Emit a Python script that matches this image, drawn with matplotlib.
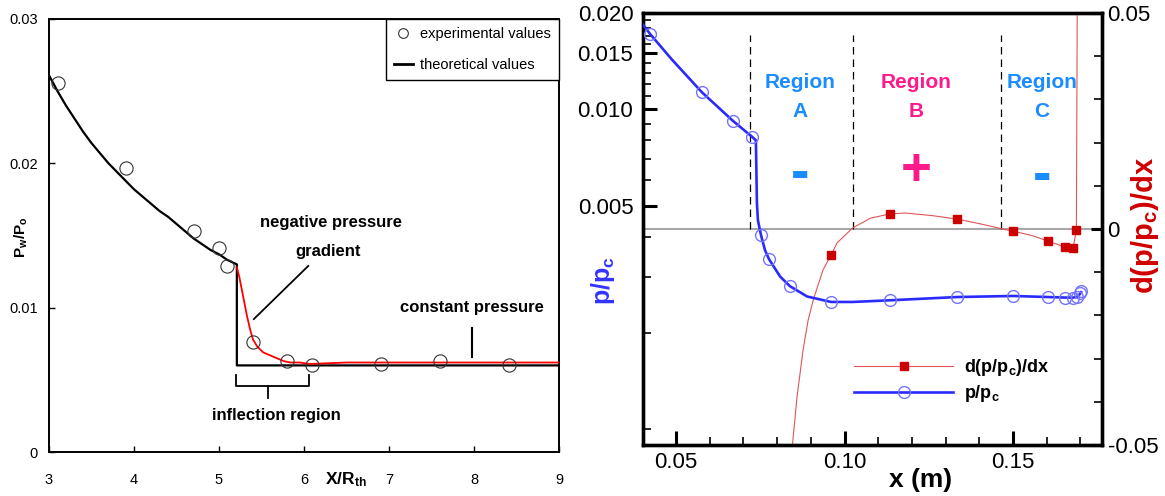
import matplotlib.pyplot as plt
from matplotlib.lines import Line2D
from matplotlib.ticker import FixedLocator, FixedFormatter, NullFormatter

plt.rcParams['font.family'] = ['Liberation Sans', 'DejaVu Sans']
plt.rcParams['mathtext.fontset'] = 'custom'
plt.rcParams['mathtext.rm'] = 'Liberation Sans'
plt.rcParams['mathtext.bf'] = 'Liberation Sans:bold'
plt.rcParams['mathtext.it'] = 'Liberation Sans:italic'

# ---- left panel: wall pressure vs X/R_th ----
exp_x = [3.1, 3.9, 4.71, 5.0, 5.1, 5.4, 5.8, 6.09, 6.9, 7.6, 8.41]
exp_p = [0.0256, 0.0197, 0.0153, 0.0141, 0.0129, 0.0076, 0.0063, 0.0060, 0.0061, 0.0063, 0.0060]
theo_x = [3.0, 3.1, 3.2, 3.3, 3.4, 3.5, 3.6, 3.7, 3.8, 3.9, 4.0, 4.1, 4.2, 4.3, 4.4,
          4.5, 4.6, 4.7, 4.8, 4.9, 5.0, 5.1, 5.21, 5.21, 9.0]
theo_p = [0.0261, 0.0250, 0.0240, 0.0231, 0.0222, 0.0214, 0.0207, 0.0200, 0.0194, 0.0188,
          0.0182, 0.0177, 0.0172, 0.0167, 0.0163, 0.0158, 0.0153, 0.0148, 0.0144, 0.0140,
          0.0137, 0.0133, 0.0130, 0.0060, 0.0060]
fit_x = [5.21, 5.24, 5.27, 5.30, 5.33, 5.37, 5.40, 5.45, 5.52, 5.60, 5.68, 5.76, 5.84,
         5.95, 6.07, 6.5, 7.0, 8.0, 9.0]
fit_p = [0.0128, 0.0121, 0.0112, 0.0103, 0.0094, 0.0084, 0.0078, 0.0073, 0.0069, 0.0067,
         0.0065, 0.0063, 0.0062, 0.0062, 0.0061, 0.0062, 0.0062, 0.0062, 0.0062]

# ---- right panel: p/pc (log, left axis) and d(p/pc)/dx (right axis) ----
p_line_x = [0.0402, 0.0423, 0.0488, 0.0577, 0.0669, 0.0726, 0.0737, 0.0740, 0.0743, 0.0752,
            0.0764, 0.0776, 0.0809, 0.0838, 0.0889, 0.096, 0.1025, 0.1135, 0.1334, 0.150,
            0.1604, 0.1654, 0.1678, 0.169, 0.1699, 0.1702]
p_line = [0.0184, 0.0172, 0.0143, 0.0113, 0.0092, 0.0082, 0.0080, 0.0051, 0.0045, 0.00405,
          0.00363, 0.0034, 0.0030, 0.0028, 0.0026, 0.0025, 0.0025, 0.00253, 0.00259, 0.00261,
          0.00259, 0.00258, 0.00258, 0.00259, 0.00265, 0.00268]
p_pts_x = [0.0423, 0.0577, 0.0669, 0.0726, 0.0752, 0.0776, 0.0838, 0.096, 0.1135, 0.1334,
           0.150, 0.1604, 0.1654, 0.1678, 0.169, 0.1699, 0.1702]
p_pts = [0.0172, 0.0113, 0.0092, 0.0082, 0.00405, 0.0034, 0.0028, 0.0025, 0.00253, 0.00259,
         0.00261, 0.00259, 0.00258, 0.00258, 0.00259, 0.00266, 0.0027]

dp_line_x = [0.0843, 0.0859, 0.0877, 0.0892, 0.0907, 0.0913, 0.0936, 0.096, 0.0978, 0.1025,
             0.1061, 0.1076, 0.1135, 0.118, 0.126, 0.1334, 0.1408, 0.1464, 0.150, 0.1556,
             0.1604, 0.1654, 0.1678, 0.1688, 0.1691]
dp_line = [-0.052, -0.0389, -0.028, -0.0211, -0.0165, -0.0150, -0.0095, -0.0060, -0.0032, 0.0003,
           0.0018, 0.0025, 0.0035, 0.0037, 0.0031, 0.0023, 0.0011, 0.0001, -0.0005, -0.0015,
           -0.0028, -0.0042, -0.0044, -0.0003, 0.06]
dp_pts_x = [0.096, 0.1135, 0.1334, 0.150, 0.1604, 0.1654, 0.1678, 0.1688]
dp_pts = [-0.0060, 0.0035, 0.0023, -0.0005, -0.0028, -0.0042, -0.0044, -0.0002]

region_edges = [0.072, 0.1025, 0.1464]
region_names = ['Region\nA', 'Region\nB', 'Region\nC']
region_signs = ['-', '+', '-']

W, H = 1165, 496
fig = plt.figure(figsize=(W / 100, H / 100), dpi=100)

# ================= left panel =================
axl = fig.add_axes([49 / W, 1 - 452 / H, 510 / W, 433 / H])
axl.plot(theo_x, theo_p, color='black', lw=1.6, zorder=2)
axl.plot(fit_x, fit_p, color='red', lw=1.3, zorder=3)
axl.plot(exp_x, exp_p, 'o', ms=9.5, mfc='none', mec='#333333', mew=0.8, zorder=4)
axl.set_xlim(3, 9)
axl.set_ylim(0, 0.03)
axl.set_xticks([3, 4, 5, 6, 7, 8, 9])
axl.set_yticks([0, 0.01, 0.02, 0.03])
axl.set_yticklabels(['0', '0.01', '0.02', '0.03'])
axl.tick_params(axis='both', direction='in', length=4, width=1, labelsize=10.5)
axl.tick_params(axis='x', pad=15)
axl.tick_params(axis='y', pad=8)
for s in axl.spines.values():
    s.set_linewidth(1.4)

leg_l = axl.legend(
    [Line2D([], [], marker='o', ls='none', ms=7, mfc='none', mec='#333333', mew=0.8),
     Line2D([], [], color='black', lw=2)],
    ['experimental values', 'theoretical values'],
    loc='upper right', bbox_to_anchor=(1, 1), borderaxespad=0, fancybox=False,
    edgecolor='black', framealpha=1, fontsize=10.5, handlelength=1.3, handletextpad=0.5,
    labelspacing=1.15, borderpad=0.55)
leg_l.get_frame().set_linewidth(1)

# annotations
axl.text(6.32, 0.0159, 'negative pressure', ha='center', va='center', fontsize=12, fontweight='bold')
axl.text(6.28, 0.0139, 'gradient', ha='center', va='center', fontsize=12, fontweight='bold')
axl.plot([5.41, 6.05], [0.00921, 0.01289], color='black', lw=1.3)
axl.text(7.98, 0.0100, 'constant pressure', ha='center', va='center', fontsize=12, fontweight='bold')
axl.plot([7.98, 7.98], [0.00859, 0.00658], color='black', lw=1.5)
axl.plot([5.2, 5.2, 6.06, 6.06], [0.00533, 0.00457, 0.00457, 0.00533], color='black', lw=1.3)
axl.plot([5.58, 5.58], [0.00457, 0.00374], color='black', lw=1.3)
axl.text(5.67, 0.00256, 'inflection region', ha='center', va='center', fontsize=12, fontweight='bold')

fig.text(346 / W, 1 - 480 / H, r'X/R$_\mathbf{th}$', ha='center', va='center',
         fontsize=12.5, fontweight='bold')
fig.text(21 / W, 1 - 237 / H, r'P$_\mathbf{w}$/P$_\mathbf{o}$', ha='center', va='center',
         fontsize=11, fontweight='bold', rotation=90)

# ================= right panel =================
ax = fig.add_axes([643 / W, 1 - 445 / H, 459 / W, 432 / H])
ax2 = ax.twinx()
ax.set_zorder(ax2.get_zorder() + 1)
ax.patch.set_visible(False)

blue = '#2a2aff'
red_line = '#e05555'
red_mark = '#cc0000'

ax.plot(p_line_x, p_line, color=blue, lw=1.9, zorder=3)
ax.plot(p_pts_x, p_pts, 'o', ms=8.5, mfc='none', mec='#7474ff', mew=1.0, zorder=4)
ax.set_yscale('log')
ax.set_ylim(0.000893, 0.02)
ax.set_xlim(0.0402, 0.1764)

ax.yaxis.set_major_locator(FixedLocator([0.005, 0.010, 0.015, 0.020]))
ax.yaxis.set_major_formatter(FixedFormatter(['0.005', '0.010', '0.015', '0.020']))
minor_y = [k / 1000 for k in range(1, 20) if k % 5 != 0]
ax.yaxis.set_minor_locator(FixedLocator(minor_y))
ax.yaxis.set_minor_formatter(NullFormatter())
ax.xaxis.set_major_locator(FixedLocator([0.05, 0.10, 0.15]))
ax.xaxis.set_major_formatter(FixedFormatter(['0.05', '0.10', '0.15']))
ax.xaxis.set_minor_locator(FixedLocator([k / 100 for k in range(5, 18) if k % 5 != 0]))

ax.tick_params(which='both', direction='in', top=False, right=False, labelsize=16)
ax.tick_params(which='major', length=10, width=2.2)
ax.tick_params(which='minor', length=6, width=1.2)
ax.tick_params(axis='y', pad=7)
ax.tick_params(axis='x', pad=5)

ax2.axhline(0, color='#a8a8a8', lw=1.5, zorder=1)
ax2.vlines(region_edges, 0, 0.045, colors='black', lw=0.9, linestyles=(0, (6, 4)), zorder=2)
ax2.plot(dp_line_x, dp_line, color=red_line, lw=0.8, zorder=3)
ax2.plot(dp_pts_x, dp_pts, 's', ms=5.5, color=red_mark, zorder=4)
ax2.set_ylim(-0.05, 0.05)
ax2.yaxis.set_major_locator(FixedLocator([-0.05, 0, 0.05]))
ax2.yaxis.set_major_formatter(FixedFormatter(['-0.05', '0', '0.05']))
ax2.yaxis.set_minor_locator(FixedLocator([k / 100 for k in range(-4, 5) if k != 0]))
ax2.tick_params(which='both', direction='in', labelsize=16, pad=4)
ax2.tick_params(which='major', length=8, width=2.2)
ax2.tick_params(which='minor', length=6, width=1.2)

for a in (ax, ax2):
    for s in a.spines.values():
        s.set_linewidth(2.4)

# region labels
reg_x = [0.0868, 0.1212, 0.1586]
reg_colors = ['#1a8cff', '#ff1a8c', '#1a8cff']
sign_y = [0.0093, 0.0102, 0.0088]
sign_size = [40, 38, 40]
for name, sx, col, sy, sg, fs in zip(region_names, reg_x, reg_colors, sign_y, region_signs, sign_size):
    top, letter = name.split('\n')
    ax2.text(sx, 0.034, top, ha='center', va='center', color=col, fontsize=15, fontweight='bold')
    ax2.text(sx, 0.0273, letter, ha='center', va='center', color=col, fontsize=15, fontweight='bold')
    ax2.text(sx, sy, sg, ha='center', va='baseline', color=col, fontsize=fs, fontweight='bold')

ax.legend(
    [Line2D([], [], color=red_line, lw=0.8, marker='s', ms=6, mfc=red_mark, mec=red_mark),
     Line2D([], [], color=blue, lw=1.9, marker='o', ms=8.5, mfc='none', mec='#7474ff')],
    [r'd(p/p$_\mathbf{c}$)/dx', r'p/p$_\mathbf{c}$'],
    loc='center left', bbox_to_anchor=(0.44, 0.149), frameon=False, borderpad=0,
    handlelength=5.5, handletextpad=0.6, labelspacing=0.3, numpoints=1,
    prop={'weight': 'bold', 'size': 13})

fig.text(921 / W, 1 - 480 / H, 'x (m)', ha='center', va='center', fontsize=19, fontweight='bold')
fig.text(603 / W, 1 - 281 / H, r'p/p$_\mathbf{c}$', ha='center', va='center', fontsize=18,
         fontweight='bold', color='#3333ff', rotation=90)
fig.text(1145 / W, 1 - 225 / H, r'd(p/p$_\mathbf{c}$)/dx', ha='center', va='center', fontsize=21,
         fontweight='bold', color='#d00000', rotation=90)

fig.savefig('out.png', dpi=100)
